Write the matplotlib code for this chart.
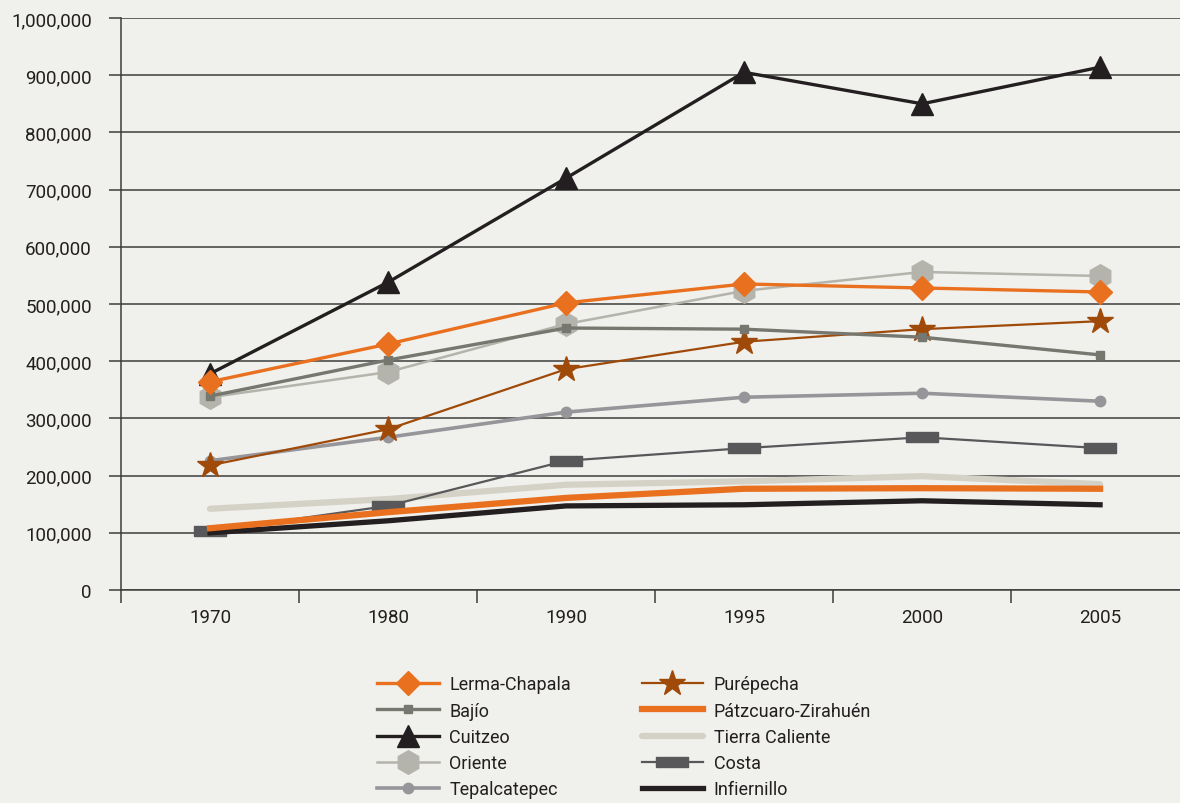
import matplotlib.pyplot as plt
from matplotlib.ticker import FuncFormatter

plt.rcParams['font.family'] = ['Roboto', 'DejaVu Sans']

years = ['1970', '1980', '1990', '1995', '2000', '2005']

lerma_chapala = [364000, 430000, 502000, 535000, 528000, 521000]
bajio = [339000, 402000, 458000, 456000, 442000, 411000]
cuitzeo = [378000, 538000, 720000, 905000, 850000, 914000]
oriente = [337000, 381000, 465000, 523000, 556000, 549000]
tepalcatepec = [226000, 267000, 311000, 337000, 344000, 330000]
purepecha = [218000, 281000, 386000, 434000, 456000, 470000]
patzcuaro = [108000, 136000, 161000, 177000, 178000, 177000]
tierra_caliente = [142000, 159000, 184000, 190000, 199000, 185000]
costa = [103000, 147000, 226000, 248000, 267000, 248000]
infiernillo = [100000, 121000, 147000, 149000, 156000, 149000]

bg = '#f0f0ec'
txt = '#231f20'
grid = '#3c3c3c'
fig = plt.figure(figsize=(11.8, 8.04), dpi=100, facecolor=bg)
ax = fig.add_axes([121 / 1180, 1 - 591 / 804, 1 - 121 / 1180, (591 - 19) / 804])
ax.set_facecolor(bg)

x = list(range(len(years)))
rect = [(-1, -0.34), (1, -0.34), (1, 0.34), (-1, 0.34), (-1, -0.34)]

# thick plain lines at the bottom, marked series on top
ax.plot(x, tierra_caliente, color='#d4d2c6', lw=4.5, solid_capstyle='round', label='Tierra Caliente', zorder=2)
ax.plot(x, costa, color='#58585a', lw=1.6, marker=rect, ms=23, label='Costa', zorder=3)
ax.plot(x, infiernillo, color=txt, lw=3.8, label='Infiernillo', zorder=3)
ax.plot(x, patzcuaro, color='#e8701f', lw=4.5, label='Pátzcuaro-Zirahuén', zorder=3)
ax.plot(x, tepalcatepec, color='#96969a', lw=2.6, marker='o', ms=7.5, label='Tepalcatepec', zorder=3)
ax.plot(x, purepecha, color='#a04a0a', lw=1.6, marker='*', ms=19, label='Purépecha', zorder=3)
ax.plot(x, oriente, color='#b4b4ac', lw=1.8, marker='h', ms=17, label='Oriente', zorder=3)
ax.plot(x, bajio, color='#76776f', lw=2.4, marker='s', ms=5.5, label='Bajío', zorder=4)
ax.plot(x, cuitzeo, color=txt, lw=2.4, marker='^', ms=16, label='Cuitzeo', zorder=4)
ax.plot(x, lerma_chapala, color='#e8701f', lw=2.4, marker='D', ms=12, label='Lerma-Chapala', zorder=5)

ax.set_yticks(range(0, 1000001, 100000))
ax.yaxis.set_major_formatter(FuncFormatter(lambda v, p: f'{int(v):,}'))
ax.yaxis.grid(True, color=grid, lw=1.1)
ax.set_axisbelow(True)
ax.tick_params(axis='y', length=9, width=1.1, color=grid, labelsize=13.5, labelcolor=txt, pad=12)

ax.set_xticks(x)
ax.set_xticklabels(years)
ax.set_xticks([i + 0.5 for i in range(-1, 6)], minor=True)
ax.tick_params(axis='x', which='major', length=0, labelsize=13.5, labelcolor=txt, pad=13)
ax.tick_params(axis='x', which='minor', length=9, width=1.1, color=grid)

ax.set_ylim(0, 1000000)
ax.set_xlim(-0.5, 5.449)

for s in ['top', 'right']:
    ax.spines[s].set_visible(False)
for s in ['left', 'bottom']:
    ax.spines[s].set_color(grid)
    ax.spines[s].set_linewidth(1.1)

handles, labels = ax.get_legend_handles_labels()
lookup = dict(zip(labels, handles))
order = ['Lerma-Chapala', 'Bajío', 'Cuitzeo', 'Oriente', 'Tepalcatepec',
         'Purépecha', 'Pátzcuaro-Zirahuén', 'Tierra Caliente', 'Costa', 'Infiernillo']
fig.legend([lookup[k] for k in order], order, loc='upper left',
           bbox_to_anchor=(361 / 1180, 1 - 660 / 804), ncol=2, frameon=False,
           fontsize=13, handlelength=3.4, columnspacing=3.9,
           labelspacing=0.46, handletextpad=0.6, labelcolor=txt)

fig.savefig('out.png', facecolor=bg)
